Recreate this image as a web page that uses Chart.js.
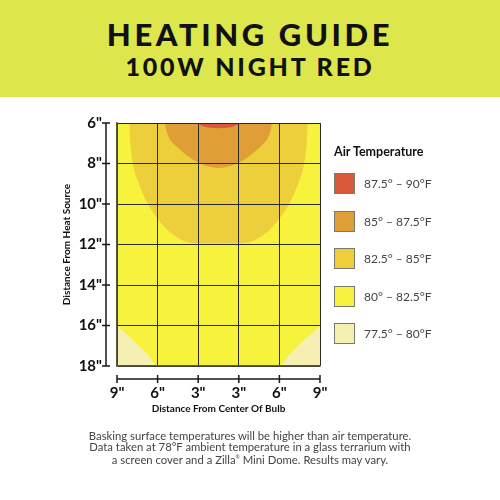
<!DOCTYPE html>
<html lang="en">
<head>
<meta charset="UTF-8">
<title>Heating Guide 100W Night Red</title>
<script src="https://cdn.jsdelivr.net/npm/chart.js"></script>
<style>
html,body{margin:0;padding:0;width:500px;height:500px;background:#fff;overflow:hidden;font-family:Lato,"Open Sans",sans-serif;}
#band{position:absolute;left:0;top:0;width:500px;height:97px;background:#dde74c;}
.t1,.t2{position:absolute;left:0;width:500px;text-align:center;color:#111;font-weight:900;line-height:1;}
.t1{top:19px;font-size:31px;letter-spacing:3.6px;}
.t2{top:54px;font-size:25px;letter-spacing:2.8px;}
#chart{position:absolute;left:0;top:0;}
#legend{position:absolute;left:334px;top:143px;}
#legend h3{margin:0 0 12px 0;font-size:12.5px;font-weight:700;color:#111;line-height:18px;}
.item{display:flex;align-items:center;height:21px;margin-bottom:16.5px;font-size:12px;color:#444;}
.sw{width:19px;height:19px;border:1px solid #7a7a6a;margin-right:9px;}
#note{position:absolute;left:0;top:431px;width:500px;text-align:center;font-size:11.3px;line-height:10.7px;color:#444;}
</style>
</head>
<body>
<div id="band"></div>
<div class="t1">HEATING GUIDE</div>
<div class="t2">100W NIGHT RED</div>
<canvas id="chart" width="500" height="500"></canvas>
<div id="legend"><h3>Air Temperature</h3></div>
<div id="note">Basking surface temperatures will be higher than air temperature.<br>Data taken at 78°F ambient temperature in a glass terrarium with<br>a screen cover and a Zilla<sup style="font-size:5px">®</sup> Mini Dome. Results may vary.</div>
<script>
// axes: x in grid columns (0..5), y in inches from heat source
const xTickLabels = ['9"', '6"', '3"', '3"', '6"', '9"'];
const yTicks = [6, 8, 10, 12, 14, 16, 18];

// temperature bands (hottest first)
const bandLabels = ['87.5° – 90°F', '85° – 87.5°F', '82.5° – 85°F', '80° – 82.5°F', '77.5° – 80°F'];
const bandColors = ['#d95a38', '#e09f36', '#edcf3b', '#f7f23c', '#f5f0b2'];

// lower edge of each band
const redEdgeX = [1.98, 2.1, 2.3, 2.5, 2.7, 2.9, 3.02];
const redEdgeY = [6, 6.15, 6.24, 6.26, 6.24, 6.15, 6];

const orangeEdgeX = [1.18, 1.22, 1.3, 1.43, 1.6, 1.75, 2.0, 2.25, 2.5, 2.75, 3.0, 3.25, 3.4, 3.57, 3.7, 3.78, 3.82];
const orangeEdgeY = [6, 6.4, 6.8, 7.1, 7.4, 7.65, 7.95, 8.15, 8.22, 8.15, 7.95, 7.65, 7.4, 7.1, 6.8, 6.4, 6];

const goldEdgeX = [0.3, 0.33, 0.39, 0.52, 0.76, 0.99, 1.31, 1.72, 2.1, 2.5, 2.9, 3.28, 3.69, 4.01, 4.24, 4.48, 4.61, 4.67, 4.7];
const goldEdgeY = [6, 7, 8, 8.9, 10, 10.7, 11.4, 11.88, 11.95, 11.95, 11.95, 11.88, 11.4, 10.7, 10, 8.9, 8, 7, 6];

const yellowEdgeX = [0, 0.24, 0.52, 0.76, 0.99, 4.01, 4.24, 4.48, 4.76, 5];
const yellowEdgeY = [16, 16.45, 16.95, 17.45, 18, 18, 17.45, 16.95, 16.45, 16];

const paleEdgeX = [0, 5];
const paleEdgeY = [18, 18];

const edges = [
  [redEdgeX, redEdgeY],
  [orangeEdgeX, orangeEdgeY],
  [goldEdgeX, goldEdgeY],
  [yellowEdgeX, yellowEdgeY],
  [paleEdgeX, paleEdgeY]
];

const datasets = edges.map(([xs, ys], i) => ({
  label: bandLabels[i],
  data: xs.map((x, j) => ({x: x, y: ys[j]})),
  backgroundColor: bandColors[i],
  borderColor: 'rgba(0,0,0,0)',
  borderWidth: 0,
  pointRadius: 0,
  cubicInterpolationMode: 'monotone',
  fill: {value: yTicks[0]}
}));

// legend
const lg = document.getElementById('legend');
bandLabels.forEach((l, i) => {
  const d = document.createElement('div');
  d.className = 'item';
  d.innerHTML = '<span class="sw" style="background:' + bandColors[i] + '"></span>' + l;
  lg.appendChild(d);
});

// detached axis lines with ticks
const detachedAxes = {
  id: 'detachedAxes',
  afterDraw(chart) {
    const {ctx, chartArea: a, scales: {x, y}} = chart;
    ctx.save();
    ctx.strokeStyle = '#1a1a1a';
    ctx.lineWidth = 1.5;
    const ax = a.left - 11;
    ctx.beginPath();
    ctx.moveTo(ax, y.getPixelForValue(yTicks[0]));
    ctx.lineTo(ax, y.getPixelForValue(yTicks[yTicks.length - 1]));
    y.ticks.forEach(t => {
      const py = y.getPixelForValue(t.value);
      ctx.moveTo(ax - 4, py);
      ctx.lineTo(ax + 4, py);
    });
    const ay = a.bottom + 13;
    ctx.moveTo(x.getPixelForValue(0), ay);
    ctx.lineTo(x.getPixelForValue(xTickLabels.length - 1), ay);
    x.ticks.forEach(t => {
      const px = x.getPixelForValue(t.value);
      ctx.moveTo(px, ay - 4);
      ctx.lineTo(px, ay + 4);
    });
    ctx.stroke();
    ctx.restore();
  }
};

new Chart(document.getElementById('chart'), {
  type: 'line',
  data: {datasets: datasets},
  plugins: [detachedAxes],
  options: {
    responsive: false,
    animation: false,
    layout: {padding: {left: 55, top: 123, right: 180, bottom: 85}},
    plugins: {legend: {display: false}, tooltip: {enabled: false}},
    scales: {
      x: {
        type: 'linear',
        min: 0,
        max: xTickLabels.length - 1,
        afterBuildTicks: s => { s.ticks = xTickLabels.map((l, i) => ({value: i})); },
        afterFit: s => { s.height = 49; },
        grid: {color: '#2a2a2a', lineWidth: 1, drawTicks: false, z: 1},
        border: {color: '#5a5848', width: 1.5, z: 2},
        ticks: {
          padding: 18,
          color: '#111',
          font: {family: 'Lato', size: 15, weight: 'bold'},
          maxRotation: 0,
          callback: (v, i) => xTickLabels[i]
        },
        title: {display: true, text: 'Distance From Center Of Bulb', color: '#111', padding: 0,
          font: {family: 'Lato', size: 10, weight: 'bold'}}
      },
      y: {
        type: 'linear',
        reverse: true,
        min: yTicks[0],
        max: yTicks[yTicks.length - 1],
        afterBuildTicks: s => { s.ticks = yTicks.map(v => ({value: v})); },
        afterFit: s => { s.width = 62; },
        grid: {color: '#2a2a2a', lineWidth: 1, drawTicks: false, z: 1},
        border: {color: '#5a5848', width: 1.5, z: 2},
        ticks: {
          padding: 15,
          color: '#111',
          font: {family: 'Lato', size: 15, weight: 'bold'},
          callback: v => v + '"'
        },
        title: {display: true, text: 'Distance From Heat Source', color: '#111', padding: 6,
          font: {family: 'Lato', size: 10, weight: 'bold'}}
      }
    }
  }
});
</script>
</body>
</html>
